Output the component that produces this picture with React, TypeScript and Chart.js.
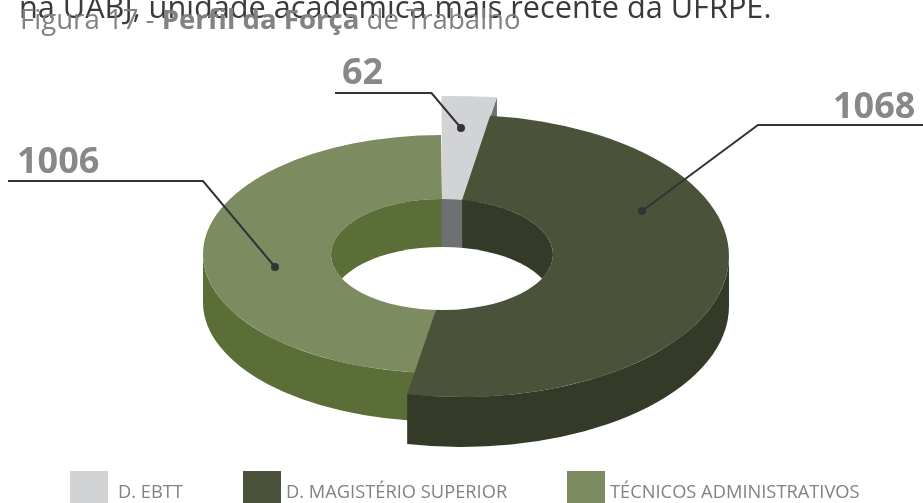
import React, { useEffect, useRef } from "react";
import { Chart, registerables } from "chart.js";

Chart.register(...registerables);

const categories = ["D. EBTT", "D. MAGISTÉRIO SUPERIOR", "TÉCNICOS ADMINISTRATIVOS"];
const values = [62, 1068, 1006];
const topColors = ["#d1d3d4", "#4a5339", "#7d8c60"];
const wallColors = ["#6f7074", "#343a28", "#5b6e38"];
const overlapLine = "na UABJ, unidade acadêmica mais recente da UFRPE.";
const captionParts = ["Figura 17 - ", "Perfil da Força", " de Trabalho"];

const FONT = '"Open Sans", "Noto Sans", sans-serif';
const rad = (d: number) => (d * Math.PI) / 180;
const HOLE = { cx: 442, cy: 254.5, rx: 111, ry: 55.5 };
const HOLE_DEPTH = 48;
// per-slice top-face ellipse and angle adjustments of the hand-drawn perspective
const SHAPE = [
  { cx: 441.5, cy: 256, rx: 450, ry: 160, depth: 48, outer: [0, -3.37], inner: [0, 0] },
  { cx: 462, cy: 256, rx: 267, ry: 141, depth: 50, outer: [-4.4, 1.4], inner: [0, -7.3] },
  { cx: 441, cy: 254, rx: 238, ry: 119, depth: 48.5, outer: [-7.45, 0], inner: [-7.3, 0] },
];
const LEADERS = [
  { text: [342, 84], pts: [[335, 93], [431.5, 93], [461, 128]], idx: 0 },
  { text: [833, 118], pts: [[923, 125], [758, 125], [642, 211]], idx: 1 },
  { text: [17, 173], pts: [[8, 181], [203, 181], [275, 267]], idx: 2 },
];
const LEGEND_X = [
  { box: 70, text: 118 },
  { box: 243, text: 286 },
  { box: 567, text: 610 },
];

const angles = (el: any, s: (typeof SHAPE)[number]) => ({
  o0: el.startAngle + rad(s.outer[0]),
  o1: el.endAngle + rad(s.outer[1]),
  i0: el.startAngle + rad(s.inner[0]),
  i1: el.endAngle + rad(s.inner[1]),
});

function top(ctx: CanvasRenderingContext2D, el: any, i: number) {
  const s = SHAPE[i];
  const a = angles(el, s);
  ctx.beginPath();
  ctx.ellipse(s.cx, s.cy, s.rx, s.ry, 0, a.o0, a.o1);
  ctx.ellipse(HOLE.cx, HOLE.cy, HOLE.rx, HOLE.ry, 0, a.i1, a.i0, true);
  ctx.closePath();
  ctx.fillStyle = topColors[i];
  ctx.fill();
}

function wall(ctx: CanvasRenderingContext2D, i: number, t0: number, t1: number) {
  const s = SHAPE[i];
  ctx.beginPath();
  ctx.ellipse(s.cx, s.cy, s.rx, s.ry, 0, t0, t1);
  ctx.ellipse(s.cx, s.cy + s.depth, s.rx, s.ry, 0, t1, t0, true);
  ctx.closePath();
  ctx.fillStyle = wallColors[i];
  ctx.fill();
}

const donut3d = {
  id: "donut3d",
  beforeDatasetsDraw(chart: any) {
    const ctx: CanvasRenderingContext2D = chart.ctx;
    const arcs = chart.getDatasetMeta(0).data;
    const [light, dark, green] = arcs;
    ctx.save();

    // light slice: radial side wall visible behind the dark slice
    const ls = SHAPE[0];
    const la = angles(light, ls);
    const ox = ls.cx + ls.rx * Math.cos(la.o1);
    const oy = ls.cy + ls.ry * Math.sin(la.o1);
    const ix = HOLE.cx + HOLE.rx * Math.cos(la.i1);
    const iy = HOLE.cy + HOLE.ry * Math.sin(la.i1);
    ctx.beginPath();
    ctx.moveTo(ox, oy);
    ctx.lineTo(ox, oy + ls.depth);
    ctx.lineTo(ix, iy + ls.depth);
    ctx.lineTo(ix, iy);
    ctx.closePath();
    ctx.fillStyle = wallColors[0];
    ctx.fill();

    // green slice
    wall(ctx, 2, angles(green, SHAPE[2]).o0, Math.PI);
    top(ctx, green, 2);
    // light slice
    top(ctx, light, 0);
    // dark slice
    wall(ctx, 1, 0, angles(dark, SHAPE[1]).o1);
    top(ctx, dark, 1);

    // inner walls seen through the hole
    ctx.save();
    ctx.beginPath();
    ctx.ellipse(HOLE.cx, HOLE.cy, HOLE.rx, HOLE.ry, 0, 0, Math.PI * 2);
    ctx.clip();
    const split = HOLE.cx + HOLE.rx * Math.cos(la.i1);
    ctx.fillStyle = wallColors[2];
    ctx.fillRect(HOLE.cx - HOLE.rx - 1, 190, HOLE.rx + 1, 130);
    ctx.fillStyle = wallColors[0];
    ctx.fillRect(HOLE.cx - 0.5, 190, split - HOLE.cx + 0.5, 130);
    ctx.fillStyle = wallColors[1];
    ctx.fillRect(split, 190, HOLE.cx + HOLE.rx + 1 - split, 130);
    ctx.beginPath();
    ctx.ellipse(HOLE.cx, HOLE.cy + HOLE_DEPTH, HOLE.rx, HOLE.ry, 0, 0, Math.PI * 2);
    ctx.fillStyle = "#ffffff";
    ctx.fill();
    ctx.restore();

    // leaders and value labels
    LEADERS.forEach((l) => {
      ctx.strokeStyle = "#333335";
      ctx.lineWidth = 2;
      ctx.beginPath();
      l.pts.forEach((p, k) => (k ? ctx.lineTo(p[0], p[1]) : ctx.moveTo(p[0], p[1])));
      ctx.stroke();
      const end = l.pts[2];
      ctx.fillStyle = "#333335";
      ctx.beginPath();
      ctx.arc(end[0], end[1], 4, 0, Math.PI * 2);
      ctx.fill();
      ctx.fillStyle = "#87888a";
      ctx.font = `700 36px ${FONT}`;
      ctx.textAlign = "left";
      ctx.textBaseline = "alphabetic";
      ctx.fillText(String(values[l.idx]), l.text[0], l.text[1]);
    });

    // legend
    categories.forEach((c, i) => {
      ctx.fillStyle = topColors[i];
      ctx.fillRect(LEGEND_X[i].box, 471, 38, 32);
      ctx.fillStyle = "#808285";
      ctx.font = `400 18.3px ${FONT}`;
      ctx.fillText(c, LEGEND_X[i].text, 498);
    });

    // overlapping heading lines at the top of the crop
    ctx.fillStyle = "#3a3a3c";
    ctx.font = `400 30.7px ${FONT}`;
    ctx.fillText(overlapLine, 19, 18);
    let x = 20;
    captionParts.forEach((p, i) => {
      ctx.font = `${i === 1 ? 700 : 400} 27.6px ${FONT}`;
      ctx.fillStyle = "#808285";
      ctx.fillText(p, x, 29);
      x += ctx.measureText(p).width;
    });
    ctx.restore();
    return false;
  },
};

export default function App() {
  const ref = useRef<HTMLCanvasElement>(null);
  useEffect(() => {
    const chart = new Chart(ref.current as HTMLCanvasElement, {
      type: "doughnut",
      data: {
        labels: categories,
        datasets: [{ data: values, backgroundColor: topColors, borderWidth: 0 }],
      },
      options: {
        responsive: false,
        animation: false,
        cutout: "45%",
        plugins: { legend: { display: false }, tooltip: { enabled: false } },
      },
      plugins: [donut3d],
    } as any);
    return () => chart.destroy();
  }, []);
  return (
    <div style={{ position: "fixed", left: 0, top: 0, width: 923, height: 503, background: "#fff", overflow: "hidden" }}>
      <canvas ref={ref} width={923} height={503} style={{ display: "block", width: 923, height: 503 }} />
    </div>
  );
}
